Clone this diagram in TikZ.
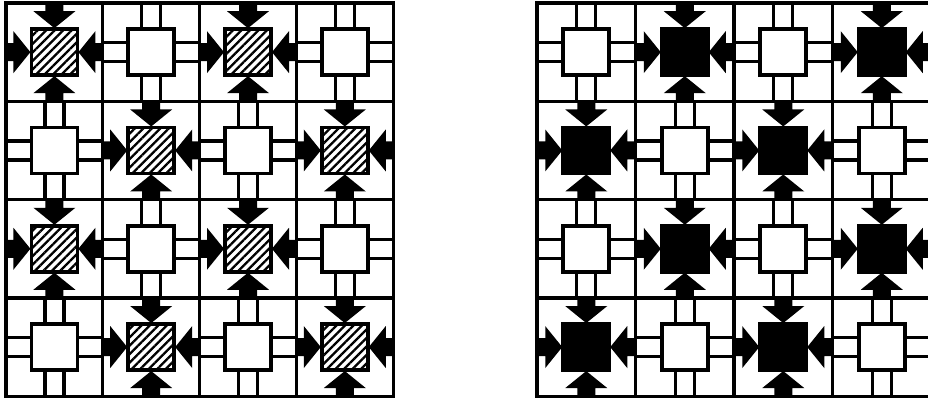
\documentclass[tikz,border=0pt]{standalone}
\usetikzlibrary{patterns.meta}
\tikzset{
  gridline/.style={line width=3.2pt},
  sqbase/.style={draw, line width=3.8pt, minimum size=46pt, inner sep=0pt, outer sep=0pt},
  whitesq/.style={sqbase, fill=white},
  hatchsq/.style={sqbase, fill=white, postaction={pattern={Lines[angle=45,distance=6pt,line width=2.3pt]}}},
  blacksq/.style={sqbase, fill=black},
  stubline/.style={line width=3.2pt},
  arrowfill/.style={fill=black},
}
\newcommand\drawmesh[7]{% #1 x0, #2 y0, #3 cw, #4 ch, #5 parity, #6 special style, #7 prefix
  \pgfmathsetmacro\hx{#3/2}
  \pgfmathsetmacro\hy{#4/2}
  \draw[gridline] (#1,#2) rectangle ({#1+4*#3},{#2+4*#4});
  \foreach \i in {1,2,3}{
    \draw[gridline] ({#1+\i*#3},#2) -- ({#1+\i*#3},{#2+4*#4});
    \draw[gridline] (#1,{#2+\i*#4}) -- ({#1+4*#3},{#2+\i*#4});
  }
  \foreach \r in {1,...,4}{
    \foreach \c in {1,...,4}{
      \pgfmathsetmacro\cx{#1+(\c-0.5)*#3}
      \pgfmathsetmacro\cy{#2+(\r-0.5)*#4}
      \pgfmathtruncatemacro\sp{mod(\r+\c,2)==#5 ? 1 : 0}
      \ifnum\sp=1
        \foreach \ang/\d in {0/\hx,90/\hy,180/\hx,270/\hy}{
          \begin{scope}[shift={(\cx,\cy)}, rotate=\ang]
            \fill[arrowfill] (\d,-9) -- (41,-9) -- (41,-21) -- (24,0) -- (41,21) -- (41,9) -- (\d,9) -- cycle;
          \end{scope}
        }
        \node[#6] (#7-\r-\c) at (\cx,\cy) {};
      \else
        \foreach \ang/\d in {0/\hx,90/\hy,180/\hx,270/\hy}{
          \begin{scope}[shift={(\cx,\cy)}, rotate=\ang]
            \draw[stubline] (23,-9.5) -- (\d,-9.5);
            \draw[stubline] (23,9.5) -- (\d,9.5);
          \end{scope}
        }
        \node[whitesq] (#7-\r-\c) at (\cx,\cy) {};
      \fi
    }
  }
}
\begin{document}
\begin{tikzpicture}[x=1pt,y=-1pt]
  \fill[white] (0,0) rectangle (928,399);
  \useasboundingbox (0,0) rectangle (928,399);
  \drawmesh{6}{3}{96.8}{98.3}{0}{hatchsq}{L}
  \drawmesh{537}{3}{98.5}{98.3}{1}{blacksq}{R}
\end{tikzpicture}
\end{document}
